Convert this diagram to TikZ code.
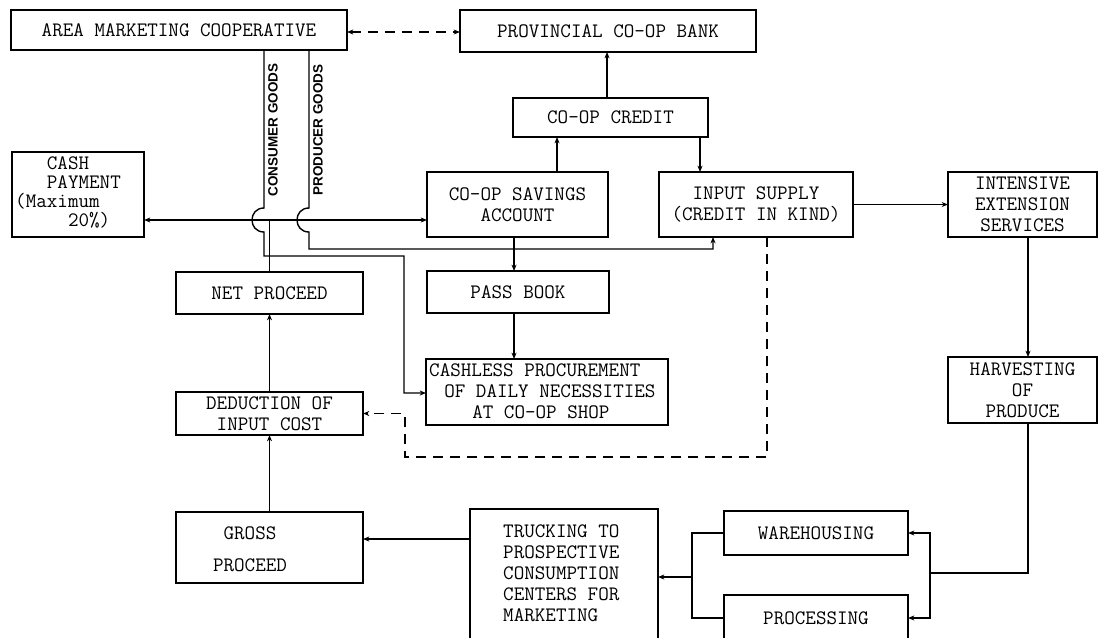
\documentclass[tikz,border=0pt]{standalone}
\usepackage{fontspec}
\newfontfamily\goodsfont{Liberation Sans}
\usetikzlibrary{arrows.meta,calc}
\newcommand\twfont{\ttfamily\addfontfeatures{FakeBold=1.2}}
\begin{document}
\begin{tikzpicture}[x=0.03cm,y=-0.03cm,
  bx/.style={draw, line width=1.2pt, inner sep=0pt, outer sep=0pt, align=center,
    font=\twfont\fontsize{17.5}{18}\selectfont},
  txt/.style={inner sep=0pt, font=\twfont\fontsize{17.5}{18}\selectfont},
  conn/.style={line width=1.2pt},
  arr/.style={conn,-{Stealth[length=1.9mm,width=1.5mm]}},
  arrboth/.style={conn,{Stealth[length=1.9mm,width=1.5mm]}-{Stealth[length=1.9mm,width=1.5mm]}},
  dsh/.style={dash pattern=on 0.3cm off 0.21cm},
  goods/.style={font=\goodsfont\bfseries\fontsize{11.5}{12}\selectfont, inner sep=0pt, rotate=90}]
\fill[white] (0,0) rectangle (1101,637);
\useasboundingbox (0,0) rectangle (1101,637);

% boxes
\node[bx,minimum width=10.08cm,minimum height=1.2cm] (amc) at (179,30) {AREA MARKETING COOPERATIVE};
\node[bx,minimum width=8.88cm,minimum height=1.26cm] (pcb) at (608,31) {PROVINCIAL CO-OP BANK};
\node[bx,minimum width=5.85cm,minimum height=1.17cm] (credit) at (610.5,117.5) {CO-OP CREDIT};
\node[bx,minimum width=3.96cm,minimum height=2.55cm] (cash) at (78,194.5) {};
\node[txt,anchor=west,align=left,font=\twfont\fontsize{17.5}{16.2}\selectfont] (cashtxt) at (15,192)
  {\phantom{(Ma}CASH\\\phantom{(Ma}PAYMENT\\(Maximum\\\phantom{(Maxi}20\%)};
\node[bx,minimum width=5.43cm,minimum height=1.95cm] (sav) at (517.5,204.5) {CO-OP SAVINGS\\ACCOUNT};
\node[bx,minimum width=5.82cm,minimum height=1.95cm] (inp) at (756,204.5) {INPUT SUPPLY\\(CREDIT IN KIND)};
\node[bx,minimum width=4.47cm,minimum height=1.95cm] (ies) at (1022.5,204.5) {INTENSIVE\\EXTENSION\\SERVICES};
\node[bx,minimum width=5.61cm,minimum height=1.26cm] (net) at (269.5,293) {NET PROCEED};
\node[bx,minimum width=5.46cm,minimum height=1.26cm] (pass) at (518,292) {PASS BOOK};
\node[bx,minimum width=7.26cm,minimum height=1.98cm] (cashless) at (547,392) {};
\node[txt,anchor=west,align=left] (cashlesstxt) at (429,391)
  {CASHLESS PROCUREMENT\\\hspace*{0.735em}OF DAILY NECESSITIES\\\hspace*{2.1em}AT CO-OP SHOP};
\node[bx,minimum width=5.61cm,minimum height=1.29cm] (ded) at (269.5,413.5) {DEDUCTION OF\\INPUT COST};
\node[bx,minimum width=4.47cm,minimum height=1.98cm] (harv) at (1022.5,390) {HARVESTING\\OF\\PRODUCE};
\node[bx,minimum width=5.61cm,minimum height=2.13cm] (gross) at (269.5,547.5) {};
\node[txt,align=center] (grosstxt) at (250,549) {GROSS\\[0.33cm]PROCEED};
\node[bx,minimum width=5.64cm,minimum height=4.8cm] (truck) at (564,589) {};
\node[txt,anchor=west,align=left] (trucktxt) at (503,573)
  {TRUCKING TO\\PROSPECTIVE\\CONSUMPTION\\CENTERS FOR\\MARKETING};
\node[bx,minimum width=5.52cm,minimum height=1.32cm] (ware) at (816,533) {WAREHOUSING};
\node[bx,minimum width=5.52cm,minimum height=1.38cm] (proc) at (816,618) {PROCESSING};

% goods labels
\node[goods] (cg) at (273,130) {CONSUMER GOODS};
\node[goods] (pg) at (318,130) {PRODUCER GOODS};

% connectors
\draw[arrboth,dsh] (amc.east |- 0,32) -- (pcb.west |- 0,32);
\draw[arr] (607,0 |- credit.north) -- (607,0 |- pcb.south);
\draw[arr] (557,0 |- sav.north) -- (557,0 |- credit.south);
\draw[arr] (700,0 |- credit.south) -- (700,0 |- inp.north);
\draw[arrboth] (cash.east |- 0,220) -- (sav.west |- 0,220);
\draw[conn] (net.north) -- (net.north |- 0,220);
\draw[arr] (264,0 |- amc.south) -- (264,208) .. controls (248,208) and (248,232) .. (264,232)
  -- (264,256) -- (404,256) -- (404,393) -- (cashless.west |- 0,393);
\draw[arr] (309,0 |- amc.south) -- (309,208) .. controls (293,208) and (293,232) .. (309,232)
  -- (309,249) -- (713,249) -- (713,0 |- inp.south);
\draw[arr] (514,0 |- sav.south) -- (514,0 |- pass.north);
\draw[arr] (514,0 |- pass.south) -- (514,0 |- cashless.north);
\draw[arr] (inp.east) -- (ies.west);
\draw[arr] (1028,0 |- ies.south) -- (1028,0 |- harv.north);
\draw[conn] (1028,0 |- harv.south) -- (1028,573) -- (930,573);
\draw[arrboth] (ware.east) -- (930,0 |- ware.east) -- (930,0 |- proc.east) -- (proc.east);
\draw[conn] (ware.west) -- (692,0 |- ware.west) -- (692,0 |- proc.west) -- (proc.west);
\draw[arr] (692,577) -- (truck.east |- 0,577);
\draw[arr] (truck.west |- 0,539) -- (gross.east |- 0,539);
\draw[arr] (gross.north) -- (ded.south);
\draw[arr] (ded.north) -- (net.south);
\draw[arr,dsh] (767,0 |- inp.south) -- (767,457) -- (405,457) -- (405,0 |- ded.east) -- (ded.east);
\end{tikzpicture}
\end{document}
